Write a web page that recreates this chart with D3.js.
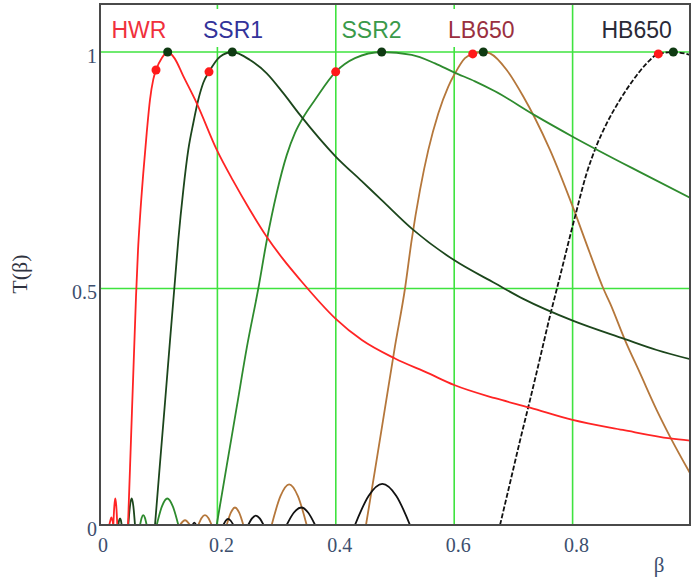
<!DOCTYPE html>
<html><head><meta charset="utf-8">
<script src="https://cdn.jsdelivr.net/npm/d3@7"></script>
<style>body{margin:0;background:#fff}svg{display:block}
.serif{font-family:"Liberation Serif","DejaVu Serif","Times New Roman",serif}
.sans{font-family:"Liberation Sans",Arial,sans-serif}</style>
</head><body>
<svg id="c" width="693" height="580"></svg>
<script>
// ---------- data ----------
const xTicks = [0, 0.2, 0.4, 0.6, 0.8];
const xTickLabels = ["0", "0.2", "0.4", "0.6", "0.8"];
const yTicks = [0, 0.5, 1];
const yTickLabels = ["0", "0.5", "1"];
const xGrid = [0.2, 0.4, 0.6, 0.8];
const yGrid = [0.5, 1];
const seriesNames = ["HWR", "SSR1", "SSR2", "LB650", "HB650"];
const xAxisTitle = "β";
const yAxisTitle = "T(β)";

const hwr = [[0,0],[0.0174,0],[0.0195,0.011],[0.021,0.016],[0.0225,0.011],[0.0242,0],[0.0259,0.04],[0.0275,0.056],[0.0292,0.04],[0.0309,0],
  [0.049,0],[0.0524,0.121],[0.0557,0.241],[0.0591,0.362],[0.0625,0.482],[0.0659,0.581],[0.0693,0.651],[0.0748,0.744],[0.0806,0.829],
  [0.0861,0.899],[0.0917,0.942],[0.0963,0.962],[0.1064,0.988],[0.116,1.0],[0.128,0.986],[0.142,0.950],[0.165,0.892],[0.199,0.793],
  [0.226,0.729],[0.255,0.666],[0.283,0.610],[0.311,0.562],[0.340,0.518],[0.399,0.437],[0.444,0.391],[0.5,0.352],[0.556,0.321],
  [0.600,0.296],[0.669,0.268],[0.728,0.248],[0.800,0.222],[0.885,0.201],[0.965,0.183],[1.0,0.178]];

const ssr1 = [[0,0],[0.0326,0],[0.034,0.010],[0.0355,0.014],[0.037,0.010],[0.0383,0],[0.0495,0],[0.0523,0.04],[0.0552,0.056],[0.058,0.04],[0.0608,0],
  [0.0946,0],[0.103,0.130],[0.1115,0.259],[0.1199,0.389],[0.1284,0.518],[0.134,0.603],[0.1424,0.708],[0.1508,0.793],[0.1593,0.850],
  [0.1677,0.899],[0.1762,0.935],[0.1858,0.958],[0.2044,0.99],[0.2252,1.0],[0.2551,0.983],[0.2833,0.955],[0.3113,0.913],[0.3395,0.867],
  [0.3998,0.779],[0.4438,0.727],[0.4775,0.687],[0.5309,0.624],[0.5997,0.560],[0.6689,0.511],[0.7167,0.478],[0.8002,0.432],
  [0.8885,0.393],[0.9421,0.370],[1.0,0.350]];

const ssr2 = [[0,0],[0.0693,0],[0.072,0.015],[0.0748,0.021],[0.0776,0.015],[0.0805,0],[0.0975,0],[0.1065,0.04],[0.1154,0.056],[0.1245,0.04],[0.134,0],
  [0.1988,0],[0.2157,0.125],[0.2326,0.249],[0.2495,0.374],[0.2691,0.500],[0.2833,0.601],[0.3002,0.702],[0.3171,0.782],[0.3311,0.829],
  [0.3451,0.862],[0.3649,0.899],[0.3998,0.958],[0.4324,0.987],[0.4775,1.0],[0.5282,0.994],[0.5676,0.976],[0.5997,0.957],[0.6351,0.938],
  [0.6689,0.917],[0.7365,0.866],[0.8002,0.821],[0.9139,0.746],[1.0,0.691]];

const lb650 = [[0,0],[0.1368,0],[0.1453,0.01],[0.1537,0],[0.1677,0],[0.1733,0.015],[0.179,0.021],[0.1847,0.015],[0.1903,0],
  [0.2157,0],[0.2227,0.026],[0.2297,0.037],[0.2368,0.026],[0.2438,0],[0.2917,0],[0.3065,0.061],[0.3212,0.086],[0.336,0.061],[0.3508,0],
  [0.451,0],[0.4662,0.116],[0.4831,0.247],[0.5,0.378],[0.5169,0.500],[0.5282,0.603],[0.5422,0.708],[0.5563,0.793],[0.5731,0.870],
  [0.59,0.927],[0.6014,0.955],[0.6182,0.987],[0.6313,0.996],[0.6492,1.0],[0.6605,0.997],[0.6887,0.962],[0.7167,0.906],[0.7365,0.860],
  [0.7618,0.793],[0.8002,0.673],[0.8294,0.574],[0.8519,0.500],[0.8632,0.469],[0.8885,0.391],[0.9139,0.321],[0.9421,0.243],
  [0.9645,0.187],[1.0,0.106]];

const hb650 = [[0,0],[0.158,0],[0.161,0.005],[0.164,0],[0.21,0],[0.214,0.009],[0.218,0.013],[0.2225,0.009],[0.227,0],
  [0.252,0],[0.2585,0.014],[0.265,0.02],[0.2715,0.014],[0.278,0],[0.317,0],[0.329,0.026],[0.342,0.037],[0.3535,0.026],[0.365,0],
  [0.4324,0],[0.4556,0.062],[0.4786,0.087],[0.502,0.062],[0.5253,0],[0.6774,0],[0.6943,0.089],[0.7111,0.178],[0.728,0.264],
  [0.745,0.353],[0.7618,0.442],[0.7758,0.511],[0.8041,0.652],[0.8238,0.744],[0.8395,0.799],[0.8576,0.849],[0.8801,0.899],
  [0.9025,0.941],[0.9252,0.976],[0.9448,0.996],[0.9701,1.0],[0.9983,0.994]];

const redMarks = [[0.0963,0.962],[0.1858,0.958],[0.3998,0.958],[0.6313,0.996],[0.9448,0.996]];
const peakMarks = [[0.116,1.0],[0.2252,1.0],[0.4775,1.0],[0.6492,1.0],[0.9701,1.0]];

// ---------- drawing ----------
const svg = d3.select("#c");
const L = 100, R = 690, T = 4, B = 525;
const x = d3.scaleLinear().domain([0, 1]).range([99, 691]);
const y = d3.scaleLinear().domain([0, 1]).range([525, 52]);

svg.append("defs").append("clipPath").attr("id", "clip")
  .append("rect").attr("x", L).attr("y", T).attr("width", R - L).attr("height", B - T);

const gridColor = "#3fe33f";
const g = svg.append("g").attr("clip-path", "url(#clip)");
g.selectAll(".vg").data(xGrid).join("line")
  .attr("x1", d => x(d)).attr("x2", d => x(d)).attr("y1", T).attr("y2", B)
  .attr("stroke", gridColor).attr("stroke-width", 1.6);
g.selectAll(".hg").data(yGrid).join("line")
  .attr("x1", L).attr("x2", R).attr("y1", d => y(d)).attr("y2", d => y(d))
  .attr("stroke", gridColor).attr("stroke-width", 1.6);

// series labels with white backing
const labelColors = ["#f0303c", "#33339a", "#3a9a4a", "#9a3040", "#2a2a38"];
const labelX = [111.5, 203, 341.5, 448, 601.5];
const labelG = svg.append("g");
seriesNames.forEach((name, i) => {
  const t = labelG.append("text").attr("class", "sans").attr("x", labelX[i]).attr("y", 37.5)
    .attr("font-size", 23).attr("fill", labelColors[i]).text(name);
  const bb = t.node().getBBox();
  labelG.insert("rect", "text").attr("x", bb.x - 3).attr("y", 9).attr("width", bb.width + 6).attr("height", 38)
    .attr("fill", "#fff");
});

// curves
function segments(data) {
  const segs = []; let cur = null;
  data.forEach((d, i) => {
    if (d[1] > 0) { if (!cur) cur = [data[i - 1]]; cur.push(d); }
    else if (cur) { cur.push(d); segs.push(cur); cur = null; }
  });
  if (cur) segs.push(cur);
  return segs;
}
const line = d3.line().x(d => x(d[0])).y(d => y(d[1])).curve(d3.curveMonotoneX);
const seriesDefs = [
  { data: lb650, color: "#b5773b", dashMain: false },
  { data: hb650, color: "#111111", dashMain: true },
  { data: ssr2, color: "#2e8b2e", dashMain: false },
  { data: ssr1, color: "#1c461c", dashMain: false },
  { data: hwr, color: "#ff2424", dashMain: false }
];
const cg = svg.append("g").attr("clip-path", "url(#clip)");
seriesDefs.forEach(s => {
  segments(s.data).forEach(seg => {
    const isMain = d3.max(seg, d => d[1]) > 0.5;
    cg.append("path").attr("d", line(seg)).attr("fill", "none")
      .attr("stroke", s.color).attr("stroke-width", 1.8)
      .attr("stroke-linejoin", "round")
      .attr("stroke-dasharray", s.dashMain && isMain ? "5,2" : null);
  });
});

// markers
cg.selectAll(".rm").data(redMarks).join("circle")
  .attr("cx", d => x(d[0])).attr("cy", d => y(d[1])).attr("r", 4.5).attr("fill", "#ff1a1a");
cg.selectAll(".pm").data(peakMarks).join("circle")
  .attr("cx", d => x(d[0])).attr("cy", d => y(d[1])).attr("r", 4.5).attr("fill", "#0f3a12");

// frame
svg.append("rect").attr("x", L).attr("y", T).attr("width", R - L).attr("height", B - T)
  .attr("fill", "none").attr("stroke", "#4a4a4a").attr("stroke-width", 2);

// tick labels
const tickColor = "#3d4f6e";
svg.selectAll(".xt").data(xTicks).join("text").attr("class", "serif")
  .attr("x", d => x(d) + 4).attr("y", 551.5).attr("text-anchor", "middle")
  .attr("font-size", 20).attr("fill", tickColor).text((d, i) => xTickLabels[i]);
svg.selectAll(".yt").data(yTicks).join("text").attr("class", "serif")
  .attr("x", 97).attr("y", d => y(d) + 10.5).attr("text-anchor", "end")
  .attr("font-size", 20).attr("fill", tickColor).text((d, i) => yTickLabels[i]);

svg.append("text").attr("class", "serif").attr("x", 659).attr("y", 572).attr("text-anchor", "middle")
  .attr("font-size", 21).attr("fill", tickColor).text(xAxisTitle);
svg.append("text").attr("class", "serif").attr("transform", "translate(27,274) rotate(-90)").attr("text-anchor", "middle")
  .attr("font-size", 22).attr("fill", "#2f3340").text(yAxisTitle);
</script>
</body></html>
